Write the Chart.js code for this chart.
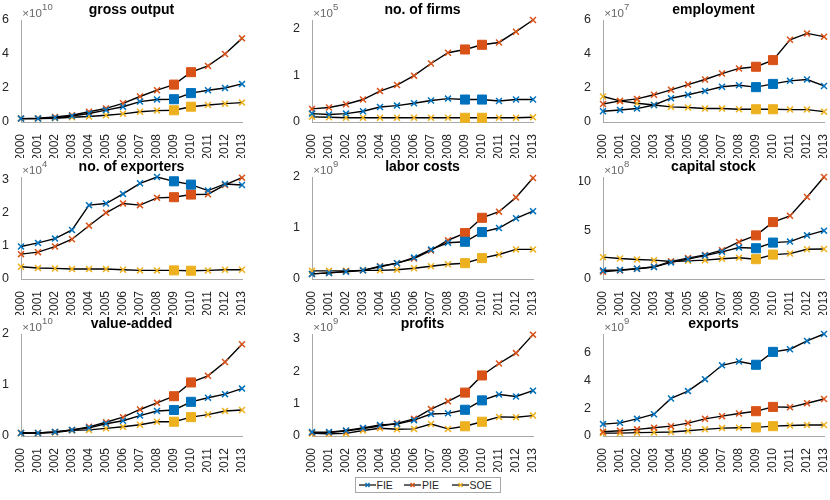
<!DOCTYPE html>
<html>
<head>
<meta charset="utf-8">
<script src="https://cdn.jsdelivr.net/npm/chart.js@4.4.1/dist/chart.umd.min.js"></script>
<style>
    body { margin: 0; background: #fff; font-family: "Liberation Sans", Arial, sans-serif; }
    #page { position: relative; width: 830px; height: 500px; overflow: hidden; }
    .panel { position: absolute; }
    #legend {
        position: absolute; left: 355px; top: 477px; width: 144px; height: 14px;
        border: 1px solid #a8a8a8; background: #fff;
        font-size: 10.5px; color: #262626;
    }
    #legend .item { position: absolute; top: 0; height: 14px; display: flex; align-items: center; }
    #legend svg { margin-right: 1px; }
</style>
</head>
<body>
<div id="page">
    <div id="legend"></div>
</div>
<script>
// Years on the x axis
const years = ['2000', '2001', '2002', '2003', '2004', '2005', '2006', '2007', '2008', '2009', '2010', '2011', '2012', '2013'];
const squareYears = ['2009', '2010'];

const seriesNames = ['FIE', 'PIE', 'SOE'];
const seriesColors = ['#0072BD', '#D95319', '#EDB120'];

// Panel titles, exponents and y axis
const panelTitles = ['gross output', 'no. of firms', 'employment', 'no. of exporters', 'labor costs', 'capital stock', 'value-added', 'profits', 'exports'];
const panelExponents = [10, 5, 7, 4, 9, 8, 10, 9, 9];
const panelYMax = [6, 2.18, 6, 3.08, 2, 10.45, 2, 3.15, 7.36];
const panelYTicks = [[0, 2, 4, 6], [0, 1, 2], [0, 2, 4, 6], [0, 1, 2, 3], [0, 1, 2], [0, 5, 10], [0, 1, 2], [0, 1, 2, 3], [0, 2, 4, 6]];

// Values (in units of 10^exponent)
const grossOutputFIE = [0.2, 0.2, 0.25, 0.35, 0.5, 0.7, 0.9, 1.2, 1.32, 1.34, 1.7, 1.87, 2.0, 2.24];
const grossOutputPIE = [0.2, 0.22, 0.3, 0.4, 0.6, 0.8, 1.1, 1.5, 1.87, 2.2, 2.93, 3.3, 4.0, 4.92];
const grossOutputSOE = [0.2, 0.2, 0.22, 0.28, 0.32, 0.4, 0.48, 0.6, 0.67, 0.69, 0.9, 1.0, 1.08, 1.14];

const firmsFIE = [0.18, 0.16, 0.18, 0.23, 0.32, 0.35, 0.4, 0.46, 0.5, 0.48, 0.48, 0.45, 0.48, 0.48];
const firmsPIE = [0.28, 0.31, 0.38, 0.48, 0.66, 0.79, 0.99, 1.25, 1.48, 1.55, 1.65, 1.7, 1.93, 2.18];
const firmsSOE = [0.11, 0.1, 0.09, 0.09, 0.09, 0.09, 0.09, 0.09, 0.09, 0.09, 0.09, 0.09, 0.09, 0.1];

const employmentFIE = [0.63, 0.71, 0.79, 1.0, 1.4, 1.6, 1.83, 2.07, 2.16, 2.05, 2.24, 2.42, 2.5, 2.12];
const employmentPIE = [1.06, 1.24, 1.36, 1.6, 1.89, 2.2, 2.5, 2.85, 3.15, 3.25, 3.64, 4.84, 5.21, 5.02];
const employmentSOE = [1.5, 1.24, 1.1, 1.0, 0.89, 0.85, 0.79, 0.79, 0.75, 0.75, 0.75, 0.73, 0.73, 0.61];

const exportersFIE = [0.98, 1.09, 1.22, 1.48, 2.23, 2.28, 2.57, 2.89, 3.08, 2.95, 2.85, 2.67, 2.87, 2.84];
const exportersPIE = [0.75, 0.81, 0.98, 1.2, 1.61, 2.0, 2.28, 2.23, 2.45, 2.47, 2.55, 2.56, 2.84, 3.06];
const exportersSOE = [0.37, 0.33, 0.32, 0.3, 0.3, 0.3, 0.28, 0.26, 0.26, 0.26, 0.25, 0.26, 0.28, 0.28];

const laborFIE = [0.1, 0.12, 0.14, 0.17, 0.24, 0.31, 0.42, 0.58, 0.71, 0.73, 0.92, 1.0, 1.19, 1.33];
const laborPIE = [0.1, 0.12, 0.15, 0.17, 0.25, 0.31, 0.4, 0.56, 0.76, 0.9, 1.2, 1.32, 1.6, 1.98];
const laborSOE = [0.16, 0.16, 0.16, 0.17, 0.17, 0.18, 0.21, 0.25, 0.29, 0.31, 0.41, 0.48, 0.58, 0.58];

const capitalFIE = [0.88, 0.92, 1.05, 1.22, 1.7, 2.03, 2.4, 2.78, 3.22, 3.15, 3.73, 3.83, 4.47, 4.95];
const capitalPIE = [0.75, 0.88, 1.05, 1.25, 1.8, 2.14, 2.47, 2.95, 3.8, 4.47, 5.83, 6.47, 8.4, 10.45];
const capitalSOE = [2.24, 2.1, 2.0, 1.93, 1.8, 1.86, 1.93, 2.07, 2.17, 2.03, 2.5, 2.6, 3.05, 3.08];

const valueAddedFIE = [0.06, 0.06, 0.08, 0.12, 0.16, 0.24, 0.3, 0.4, 0.49, 0.51, 0.67, 0.75, 0.82, 0.93];
const valueAddedPIE = [0.06, 0.06, 0.08, 0.12, 0.18, 0.27, 0.37, 0.52, 0.65, 0.78, 1.05, 1.18, 1.45, 1.8];
const valueAddedSOE = [0.06, 0.06, 0.07, 0.11, 0.12, 0.15, 0.18, 0.22, 0.28, 0.28, 0.37, 0.42, 0.49, 0.51];

const profitsFIE = [0.12, 0.12, 0.17, 0.25, 0.34, 0.37, 0.49, 0.68, 0.7, 0.81, 1.1, 1.28, 1.22, 1.4];
const profitsPIE = [0.1, 0.11, 0.15, 0.23, 0.31, 0.39, 0.53, 0.83, 1.07, 1.34, 1.87, 2.24, 2.56, 3.13];
const profitsSOE = [0.08, 0.07, 0.08, 0.17, 0.24, 0.21, 0.22, 0.37, 0.22, 0.3, 0.44, 0.59, 0.58, 0.63];

const exportsFIE = [0.86, 0.95, 1.24, 1.57, 2.71, 3.24, 4.1, 5.1, 5.38, 5.14, 6.07, 6.26, 6.86, 7.36];
const exportsPIE = [0.31, 0.38, 0.48, 0.6, 0.71, 0.93, 1.24, 1.43, 1.62, 1.79, 2.1, 2.07, 2.36, 2.67];
const exportsSOE = [0.21, 0.21, 0.24, 0.26, 0.29, 0.38, 0.48, 0.57, 0.6, 0.62, 0.71, 0.76, 0.79, 0.79];

const panelSeries = [
    [grossOutputFIE, grossOutputPIE, grossOutputSOE],
    [firmsFIE, firmsPIE, firmsSOE],
    [employmentFIE, employmentPIE, employmentSOE],
    [exportersFIE, exportersPIE, exportersSOE],
    [laborFIE, laborPIE, laborSOE],
    [capitalFIE, capitalPIE, capitalSOE],
    [valueAddedFIE, valueAddedPIE, valueAddedSOE],
    [profitsFIE, profitsPIE, profitsSOE],
    [exportsFIE, exportsPIE, exportsSOE]
];

// Layout of the grid of axes (page pixels)
const colLeft = [21, 311.5, 603];
const rowTop = [19.5, 177, 334];
const plotW = 221;
const plotH = 102;
const padTop = 22;
const yAxisW = 24;
const padRight = 10;
const xAxisH = 36;

const FONT = '"Liberation Sans", Arial, sans-serif';

// Title and x10^n label above each axes
const panelText = {
    id: 'panelText',
    afterDraw(chart, args, opts) {
        const { ctx, chartArea } = chart;
        ctx.save();
        ctx.fillStyle = '#000';
        ctx.font = 'bold 14px ' + FONT;
        ctx.textAlign = 'center';
        ctx.textBaseline = 'alphabetic';
        ctx.fillText(opts.title, (chartArea.left + chartArea.right) / 2, chartArea.top - 6);

        ctx.fillStyle = '#666';
        ctx.textAlign = 'left';
        ctx.font = '11.5px ' + FONT;
        const base = '\u00d710';
        ctx.fillText(base, chartArea.left + 1.3, chartArea.top - 3);
        const w = ctx.measureText(base).width;
        ctx.font = '9.5px ' + FONT;
        ctx.fillText(String(opts.exponent), chartArea.left + 1.3 + w + 0.3, chartArea.top - 10);
        ctx.restore();
    }
};

function makeDataset(values, idx) {
    const color = seriesColors[idx];
    const isSquare = years.map(y => squareYears.includes(y));
    return {
        label: seriesNames[idx],
        data: values,
        clip: false,
        borderColor: '#000',
        borderWidth: 1.4,
        tension: 0,
        pointStyle: isSquare.map(s => s ? 'rect' : 'crossRot'),
        pointRadius: isSquare.map(s => s ? 6.4 : 4.2),
        pointBorderColor: color,
        pointBackgroundColor: color,
        pointBorderWidth: isSquare.map(s => s ? 1 : 1.5)
    };
}

function buildPanel(i) {
    const col = i % 3;
    const row = Math.floor(i / 3);
    const div = document.createElement('div');
    div.className = 'panel';
    div.style.left = (colLeft[col] - yAxisW) + 'px';
    div.style.top = (rowTop[row] - padTop) + 'px';
    div.style.width = (yAxisW + plotW + padRight) + 'px';
    div.style.height = (padTop + plotH + xAxisH) + 'px';
    const canvas = document.createElement('canvas');
    div.appendChild(canvas);
    document.getElementById('page').appendChild(div);

    new Chart(canvas, {
        type: 'line',
        data: {
            labels: years,
            datasets: panelSeries[i].map((vals, k) => makeDataset(vals, k))
        },
        options: {
            responsive: true,
            maintainAspectRatio: false,
            animation: false,
            events: [],
            layout: { padding: { top: padTop, right: padRight, left: 0, bottom: 0 } },
            plugins: {
                legend: { display: false },
                tooltip: { enabled: false },
                panelText: { title: panelTitles[i], exponent: panelExponents[i] }
            },
            scales: {
                x: {
                    offset: false,
                    grid: { display: false },
                    border: { display: true, color: '#a8a8a8', width: 1 },
                    ticks: {
                        autoSkip: false,
                        maxRotation: 90,
                        minRotation: 90,
                        padding: 4,
                        color: '#262626',
                        font: { family: FONT, size: 12 }
                    },
                    afterFit: s => { s.height = xAxisH; s.paddingLeft = 0; s.paddingRight = 0; }
                },
                y: {
                    min: 0,
                    max: panelYMax[i],
                    grid: { display: false },
                    border: { display: true, color: '#a8a8a8', width: 1 },
                    afterBuildTicks: s => { s.ticks = panelYTicks[i].map(v => ({ value: v })); },
                    ticks: {
                        padding: 4,
                        color: '#262626',
                        font: { family: FONT, size: 12.5 }
                    },
                    afterFit: s => { s.width = yAxisW; s.paddingTop = 0; s.paddingBottom = 0; }
                }
            }
        },
        plugins: [panelText]
    });
}

for (let i = 0; i < panelTitles.length; i++) {
    buildPanel(i);
}

// Shared legend
const legendOffsets = [2.5, 48, 95.5];
const legend = document.getElementById('legend');
seriesNames.forEach((name, k) => {
    const item = document.createElement('div');
    item.className = 'item';
    item.style.left = legendOffsets[k] + 'px';
    item.innerHTML =
        '<svg width="17" height="10"><line x1="0" y1="5" x2="17" y2="5" stroke="#000" stroke-width="1.2"/>' +
        '<line x1="6.5" y1="3" x2="10.5" y2="7" stroke="' + seriesColors[k] + '" stroke-width="1.5"/>' +
        '<line x1="6.5" y1="7" x2="10.5" y2="3" stroke="' + seriesColors[k] + '" stroke-width="1.5"/></svg>' +
        '<span>' + name + '</span>';
    legend.appendChild(item);
});
</script>
</body>
</html>
